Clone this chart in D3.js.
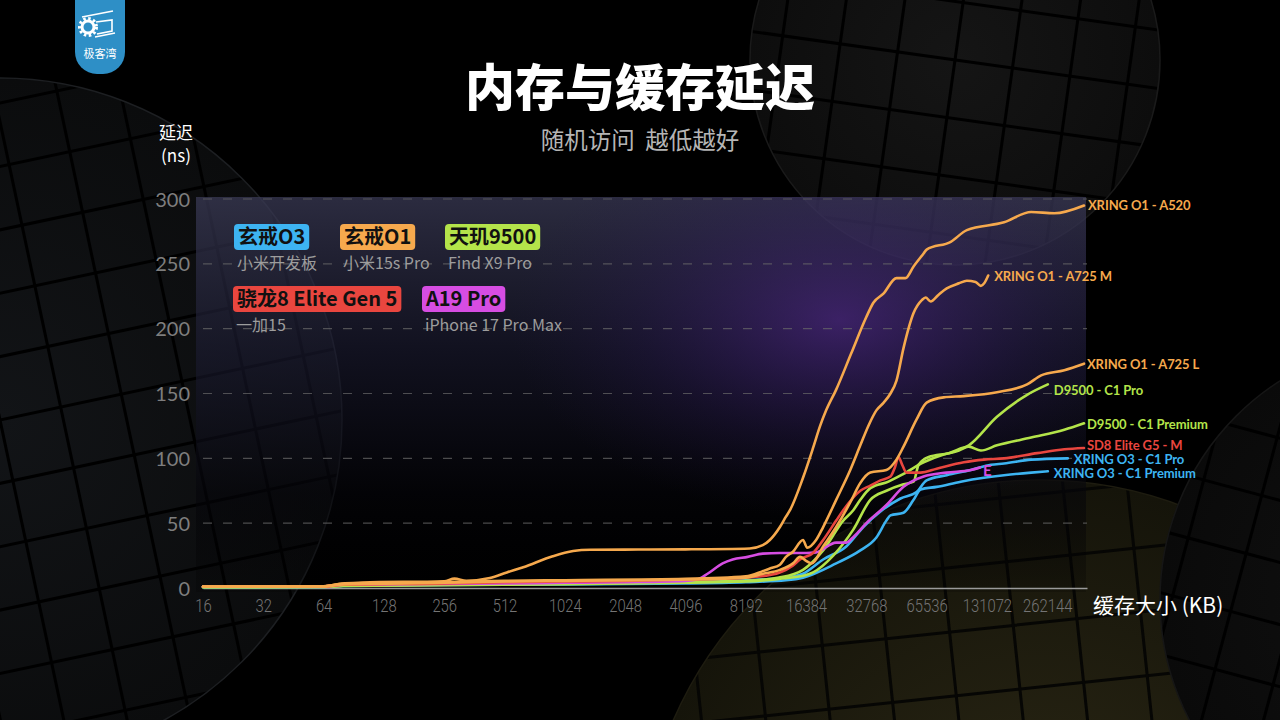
<!DOCTYPE html>
<html><head><meta charset="utf-8">
<script src="https://cdn.jsdelivr.net/npm/d3@7/dist/d3.min.js"></script>
<style>
html,body{margin:0;padding:0;background:#000;}
svg{display:block;}
</style></head>
<body>
<svg id="chart" width="1280" height="720"></svg>
<script>
// ---------- DATA ----------
const sizeTicks = [16,32,64,128,256,512,1024,2048,4096,8192,16384,32768,65536,131072,262144];
const sizeTickLabels = ["16","32","64","128","256","512","1024","2048","4096","8192","16384","32768","65536","131072","262144"];
const latencyTicks = [0,50,100,150,200,250,300];

const xringO1_A520 = [[16,1.2],[64,1.3],[79,3.5],[100,4.2],[256,5.2],[288,7.2],[330,5.6],[433,7.7],[526,12],[635,16],[891,24.5],[1127,28.5],[1370,29.5],[4096,29.8],[8578,30.5],[9965,33],[10809,37],[12135,47],[13006,55],[13620,60],[15826,85],[17765,108],[19263,125],[20643,137],[23170,153],[27554,181],[32768,209],[35521,220],[39880,227],[46341,239],[51406,239],[56389,248],[63294,258],[65536,261],[86470,267],[104000,276],[159500,282],[217900,290],[284300,289],[400000,295]];
const xringO1_A725M = [[16,1.2],[64,1.3],[80,3.2],[256,4.5],[512,5.5],[1024,6],[4096,7],[8192,9],[9965,13],[10809,15],[12135,18],[13006,24],[14100,28],[15826,37],[16600,31],[18391,37],[19947,47],[23170,68],[27238,91],[30574,110],[33530,125],[36773,137],[40000,143],[43238,150],[46341,160],[50235,185],[56389,212],[62000,222],[64770,224],[68627,221],[75000,226],[82570,231],[95000,235],[104000,237],[115000,236],[122300,233],[127000,235],[133000,241]];
const xringO1_A725L = [[16,1],[64,1.2],[80,2.8],[256,4],[512,5],[1024,5.5],[4096,6.5],[8192,8],[10000,11],[12135,14],[14100,19],[15300,24],[16384,21],[17500,19],[19947,32],[23170,47],[27238,66],[30574,81],[34313,89],[41285,91],[46341,99],[50235,109],[58388,130],[65536,143],[79770,147],[100470,148],[147090,151],[208000,157],[244600,164],[319000,168],[400000,173]];
const d9500_C1Pro = [[16,0.8],[64,1],[80,1.8],[256,2.5],[512,3],[1024,3.5],[4096,4.5],[8192,5.5],[12000,8],[15826,14],[19947,29],[25127,52],[28197,60],[30574,68],[34313,77],[42250,82],[50235,88],[63294,97],[79770,103],[94840,106],[106430,110],[147090,132],[208000,149],[264000,157]];
const d9500_C1Premium = [[16,0.6],[64,0.8],[80,1.5],[512,2.5],[1024,3],[4096,4],[8192,5],[12000,7],[16384,10],[17765,12],[22389,25],[28197,45],[34313,68],[41285,75],[50235,80],[56389,82],[59750,95],[67063,101],[84500,104],[106430,109],[122300,106],[147090,110],[217900,116],[319000,122],[400000,127]];
const sd8_M = [[16,1],[64,1.2],[80,2.5],[256,3.5],[512,4.5],[1024,5],[2048,5.5],[4096,6.5],[8192,8],[10809,10],[12135,12],[14000,17],[15287,22],[17765,27],[19947,37],[23170,52],[25127,60],[30574,75],[34313,79],[38520,83],[43238,86],[45500,93],[47421,101],[49500,95],[52003,89],[61140,89],[73546,92],[100470,97],[126600,99],[159500,100],[233500,104],[319000,107],[400000,108]];
const xringO3_C1Pro = [[16,0.8],[64,1],[80,2],[512,3],[4096,4.5],[8192,6],[13000,8],[15826,11],[19947,22],[26008,32],[31651,47],[38520,59],[48525,69],[58388,74],[65536,83],[82570,87],[108900,91],[137250,95],[159500,96],[217900,99],[332000,100]];
const xringO3_C1Premium = [[16,0.6],[64,0.8],[80,1.5],[512,2.5],[4096,3.5],[8192,4.5],[13000,6],[15826,8],[23170,19],[30574,29],[36773,39],[41285,52],[43238,56],[50235,58],[56389,68],[61140,76],[73546,78],[97050,82],[126600,85],[159500,87],[217900,89],[264000,90]];
const a19Pro_E = [[16,1],[64,1.2],[80,2.5],[512,3.5],[1024,4],[2048,4.5],[4096,5.5],[4700,6.5],[5282,11],[6281,19],[7047,22],[8383,24],[9965,26.5],[12135,27],[16384,27],[18391,27.5],[23170,35],[26008,35],[28500,40],[32768,50],[41285,64],[50235,78],[63294,86],[82570,89],[108900,91],[121000,93]];

const legendChips = ["玄戒O3","玄戒O1","天玑9500","骁龙8 Elite Gen 5","A19 Pro"];
const legendDevices = ["小米开发板","小米15s Pro","Find X9 Pro","一加15","iPhone 17 Pro Max"];

// ---------- STYLE ----------
const C = {orange:"#f6a94d", green:"#b4e44a", red:"#e9463f", blue:"#3db4f2", magenta:"#d64de2"};
const seriesList = [
  {name:"XRING O3 - C1 Premium", data:xringO3_C1Premium, color:C.blue, dx:6, dy:2},
  {name:"XRING O3 - C1 Pro", data:xringO3_C1Pro, color:C.blue, dx:6, dy:1},
  {name:"D9500 - C1 Premium", data:d9500_C1Premium, color:C.green, dx:3, dy:1},
  {name:"D9500 - C1 Pro", data:d9500_C1Pro, color:C.green, dx:6, dy:6},
  {name:"E", data:a19Pro_E, color:C.magenta, dx:3, dy:3, big:true},
  {name:"SD8 Elite G5 - M", data:sd8_M, color:C.red, dx:3, dy:-3},
  {name:"XRING O1 - A725 L", data:xringO1_A725L, color:C.orange, dx:3, dy:1},
  {name:"XRING O1 - A725 M", data:xringO1_A725M, color:C.orange, dx:6, dy:1},
  {name:"XRING O1 - A520", data:xringO1_A520, color:C.orange, dx:4, dy:0}
];
const legendColors = [C.blue, C.orange, C.green, C.red, C.magenta];
const legendPos = [[234,224],[340,224],[445,224],[233,286],[422,286]];

const svg = d3.select("#chart");
const defs = svg.append("defs");

// ---------- BACKGROUND ----------
svg.append("rect").attr("width",1280).attr("height",720).attr("fill","#000");

function sphere(id, cx, cy, r, fillInner, fillOuter, gridColor, angle, step, edge){
  const g = svg.append("g");
  defs.append("clipPath").attr("id","clip"+id).append("circle").attr("cx",cx).attr("cy",cy).attr("r",r);
  const rg = defs.append("radialGradient").attr("id","rg"+id).attr("cx","50%").attr("cy","50%").attr("r","50%");
  rg.append("stop").attr("offset","0%").attr("stop-color",fillInner);
  rg.append("stop").attr("offset","100%").attr("stop-color",fillOuter);
  g.append("circle").attr("cx",cx).attr("cy",cy).attr("r",r).attr("fill","url(#rg"+id+")");
  const gg = g.append("g").attr("clip-path","url(#clip"+id+")")
    .append("g").attr("transform",`rotate(${angle},${cx},${cy})`);
  const n = Math.ceil(r/step)+1;
  for(let i=-n;i<=n;i++){
    gg.append("line").attr("x1",cx+i*step).attr("x2",cx+i*step).attr("y1",cy-r-20).attr("y2",cy+r+20)
      .attr("stroke",gridColor).attr("stroke-width",3);
    gg.append("line").attr("y1",cy+i*step).attr("y2",cy+i*step).attr("x1",cx-r-20).attr("x2",cx+r+20)
      .attr("stroke",gridColor).attr("stroke-width",3);
  }
  g.append("circle").attr("cx",cx).attr("cy",cy).attr("r",r).attr("fill","none")
    .attr("stroke",edge).attr("stroke-width",1.5);
}
sphere("a", 0, 420, 342, "#121417", "#0b0c0d", "#000", -12, 62, "#1d1f22");
sphere("b", 955, 60, 205, "#151515", "#0d0d0d", "#000", 8, 58, "#1a1a1a");
sphere("c", 1040, 880, 400, "#2c2815", "#15140a", "#060604", -6, 64, "#1e1c10");
sphere("d", 1420, 600, 260, "#111111", "#0a0a0a", "#000", 15, 60, "#161616");

// ---------- PANEL ----------
const lg = defs.append("linearGradient").attr("id","panelGrad").attr("x1","0").attr("y1","0").attr("x2","0").attr("y2","1");
lg.append("stop").attr("offset","0%").attr("stop-color","#3a3a55").attr("stop-opacity",0.75);
lg.append("stop").attr("offset","40%").attr("stop-color","#1c1c33").attr("stop-opacity",0.6);
lg.append("stop").attr("offset","75%").attr("stop-color","#05050a").attr("stop-opacity",0.6);
lg.append("stop").attr("offset","100%").attr("stop-color","#000").attr("stop-opacity",0.2);
svg.append("rect").attr("x",196).attr("y",197).attr("width",890).attr("height",395).attr("fill","url(#panelGrad)");
const pg = defs.append("radialGradient").attr("id","purpleGlow").attr("cx","0.5").attr("cy","0.5").attr("r","0.5");
pg.append("stop").attr("offset","0%").attr("stop-color","#5a2a9a").attr("stop-opacity",0.55);
pg.append("stop").attr("offset","60%").attr("stop-color","#3a1f70").attr("stop-opacity",0.2);
pg.append("stop").attr("offset","100%").attr("stop-color","#2a1a50").attr("stop-opacity",0);
defs.append("clipPath").attr("id","panelClip").append("rect").attr("x",196).attr("y",197).attr("width",890).attr("height",395);
svg.append("g").attr("clip-path","url(#panelClip)")
  .append("ellipse").attr("cx",840).attr("cy",320).attr("rx",330).attr("ry",200).attr("fill","url(#purpleGlow)");

// ---------- SCALES ----------
const x = d3.scaleLog().base(2).domain([16, 414000]).range([203, 1087]);
const y = d3.scaleLinear().domain([0, 300]).range([588, 199]);

// grid
const grid = svg.append("g");
latencyTicks.filter(d=>d>0).forEach(t=>{
  grid.append("line").attr("x1",203).attr("x2",1087).attr("y1",y(t)).attr("y2",y(t))
    .attr("stroke","#6a6a6a").attr("stroke-opacity",0.7).attr("stroke-width",1.2).attr("stroke-dasharray","9,11");
});

// y axis
const yAxis = d3.axisLeft(y).tickValues(latencyTicks).tickSize(0).tickPadding(0);
const yg = svg.append("g").attr("transform","translate(190,0)").call(yAxis);
yg.select(".domain").remove();
yg.selectAll("text").attr("fill","#7e7e7e").attr("font-family","Lato, 'Open Sans', sans-serif")
  .attr("font-size",20).attr("dy","0.35em");

// x axis
const xAxis = d3.axisBottom(x).tickValues(sizeTicks).tickFormat((d,i)=>sizeTickLabels[i]).tickSize(0).tickPadding(11);
const xg = svg.append("g").attr("transform","translate(0,588)").call(xAxis);
xg.select(".domain").attr("stroke","#9a9a9a").attr("stroke-width",1.5);
xg.selectAll("text").attr("fill","#747474")
  .attr("font-family","Roboto, sans-serif").attr("font-weight",300).attr("font-size",19)
  .attr("transform","scale(0.78,1)");

// ---------- LINES ----------
const line = d3.line().x(d=>x(d[0])).y(d=>y(d[1])).curve(d3.curveMonotoneX);
const lines = svg.append("g");
seriesList.forEach(s=>{
  lines.append("path").datum(s.data).attr("d",line).attr("fill","none")
    .attr("stroke",s.color).attr("stroke-width",2.6).attr("stroke-linejoin","round").attr("stroke-linecap","round");
});
const labels = svg.append("g");
seriesList.forEach(s=>{
  const last = s.data[s.data.length-1];
  labels.append("text").attr("x",x(last[0])+s.dx).attr("y",y(last[1])+s.dy).attr("dy","0.35em")
    .attr("fill",s.color).attr("font-family","Lato, 'Open Sans', sans-serif").attr("font-weight",700)
    .attr("font-size",s.big?15:13).attr("letter-spacing",-0.1).text(s.name);
});

// ---------- LEGEND ----------
const legend = svg.append("g");
legendChips.forEach((t,i)=>{
  const [lx,ly] = legendPos[i];
  const g = legend.append("g");
  const r = g.append("rect").attr("x",lx).attr("y",ly).attr("height",26).attr("rx",4).attr("fill",legendColors[i]);
  const tx = g.append("text").attr("x",lx+4).attr("y",ly+13).attr("dy","0.36em")
    .attr("font-family","'Noto Sans CJK SC','Noto Sans',sans-serif").attr("font-weight",700)
    .attr("font-size",20).attr("fill","#111").text(t);
  const w = tx.node().getComputedTextLength();
  r.attr("width", w+8);
  g.append("text").attr("x",lx+3).attr("y",ly+39).attr("dy","0.35em")
    .attr("font-family","'Noto Sans CJK SC','Noto Sans',sans-serif").attr("font-size",16)
    .attr("fill","#9d9d9d").text(legendDevices[i]);
});

// ---------- TITLES ----------
svg.append("text").attr("x",640).attr("y",88).attr("dy","0.36em").attr("text-anchor","middle")
  .attr("font-family","'Noto Sans CJK SC',sans-serif").attr("font-weight",900).attr("font-size",50)
  .attr("fill","#fff").text("内存与缓存延迟");
svg.append("text").attr("x",640).attr("y",141).attr("dy","0.36em").attr("text-anchor","middle")
  .attr("font-family","'Noto Sans CJK SC',sans-serif").attr("font-size",23.5)
  .attr("fill","#b5b5b5").attr("xml:space","preserve").text("随机访问\u00a0\u00a0越低越好");
svg.append("text").attr("x",176).attr("y",133).attr("dy","0.36em").attr("text-anchor","middle")
  .attr("font-family","'Noto Sans CJK SC',sans-serif").attr("font-size",17).attr("fill","#fff").text("延迟");
svg.append("text").attr("x",176).attr("y",156).attr("dy","0.36em").attr("text-anchor","middle")
  .attr("font-family","'Noto Sans CJK SC',sans-serif").attr("font-size",17).attr("fill","#fff").text("(ns)");
svg.append("text").attr("x",1093).attr("y",605).attr("dy","0.36em")
  .attr("font-family","'Noto Sans CJK SC',sans-serif").attr("font-size",21).attr("fill","#fff").text("缓存大小 (KB)");

// ---------- LOGO ----------
const logo = svg.append("g");
logo.append("path").attr("d","M75,0 H125 V52 A22,22 0 0 1 103,74 H97 A22,22 0 0 1 75,52 Z").attr("fill","#2e8fc6");
logo.append("circle").attr("cx",88).attr("cy",27).attr("r",6).attr("fill","none").attr("stroke","#fff").attr("stroke-width",3);
logo.append("circle").attr("cx",88).attr("cy",27).attr("r",8.5).attr("fill","none").attr("stroke","#fff")
  .attr("stroke-width",3).attr("stroke-dasharray","2.5,2.5");
logo.append("path").attr("d","M82,17 L113,11 M96,22 L112,20 L112,31 L97,34 M95,37 L115,33")
  .attr("stroke","#fff").attr("stroke-width",1.6).attr("fill","none");
logo.append("text").attr("x",100).attr("y",54).attr("dy","0.36em").attr("text-anchor","middle")
  .attr("font-family","'Noto Sans CJK SC',sans-serif").attr("font-size",11).attr("fill","#fff").text("极客湾");
</script>
</body></html>
